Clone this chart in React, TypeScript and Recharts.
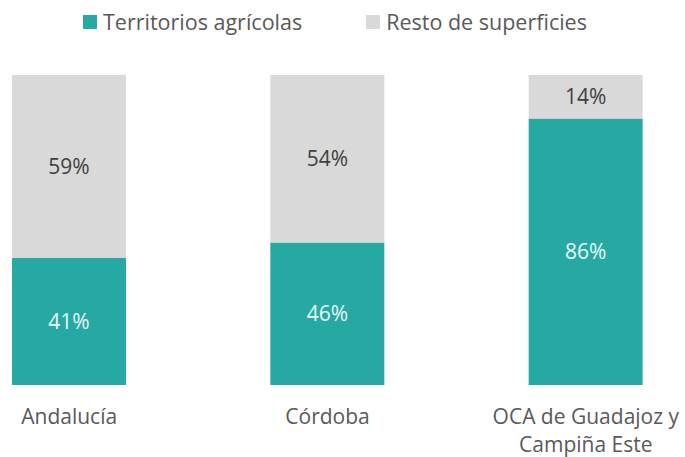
import { Bar, BarChart, LabelList, Legend, XAxis, YAxis } from "recharts";

const regions = ["Andalucía", "Córdoba", "OCA de Guadajoz y\nCampiña Este"];
const agricolas = [41, 46, 86];
const resto = [59, 54, 14];

const seriesNames = ["Territorios agrícolas", "Resto de superficies"];
const teal = "#27A9A3";
const grey = "#D9D9D9";
const font = "'Open Sans', sans-serif";

const data = regions.map((name, i) => ({
  name,
  agricolas: agricolas[i],
  resto: resto[i],
}));

const RegionTick = ({ x, y, payload }: any) => {
  const lines = String(payload.value).split("\n");
  return (
    <text
      x={x}
      y={y}
      textAnchor="middle"
      fill="#595959"
      fontSize={21}
      fontFamily={font}
    >
      {lines.map((l, i) => (
        <tspan key={i} x={x} dy={i === 0 ? 31 : 28}>
          {l}
        </tspan>
      ))}
    </text>
  );
};

const TopLegend = ({ payload }: any) => {
  const items = [...(payload || [])].sort(
    (a: any, b: any) => seriesNames.indexOf(a.value) - seriesNames.indexOf(b.value)
  );
  return (
    <div style={{ display: "flex", gap: 64, paddingLeft: 83 }}>
      {items.map((p: any) => (
        <div
          key={p.value}
          style={{ display: "flex", alignItems: "center", gap: 6 }}
        >
          <span
            style={{ width: 14, height: 14, background: p.color, display: "inline-block" }}
          />
          <span style={{ fontFamily: font, fontSize: 21.5, color: "#595959", lineHeight: "30px" }}>
            {p.value}
          </span>
        </div>
      ))}
    </div>
  );
};

const pct = (v: any) => `${v}%`;

export default function App() {
  return (
    <div style={{ position: "absolute", left: 0, top: 0, background: "#fff" }}>
      <BarChart
        width={685}
        height={457}
        data={data}
        margin={{ top: 75, right: -30, bottom: 12, left: -60 }}
      >
        <XAxis
          dataKey="name"
          axisLine={false}
          tickLine={false}
          height={60}
          interval={0}
          tick={<RegionTick />}
        />
        <YAxis hide domain={[0, 100]} />
        <Legend
          verticalAlign="middle"
          align="center"
          wrapperStyle={{ top: 7, left: 0, width: 685 }}
          content={<TopLegend />}
        />
        <Bar
          dataKey="agricolas"
          name={seriesNames[0]}
          stackId="a"
          fill={teal}
          barSize={114}
          isAnimationActive={false}
        >
          <LabelList
            dataKey="agricolas"
            position="center"
            formatter={pct}
            fill="#E8F7F5"
            fontSize={21}
            fontFamily={font}
          />
        </Bar>
        <Bar
          dataKey="resto"
          name={seriesNames[1]}
          stackId="a"
          fill={grey}
          barSize={114}
          isAnimationActive={false}
        >
          <LabelList
            dataKey="resto"
            position="center"
            formatter={pct}
            fill="#404040"
            fontSize={21}
            fontFamily={font}
          />
        </Bar>
      </BarChart>
    </div>
  );
}
